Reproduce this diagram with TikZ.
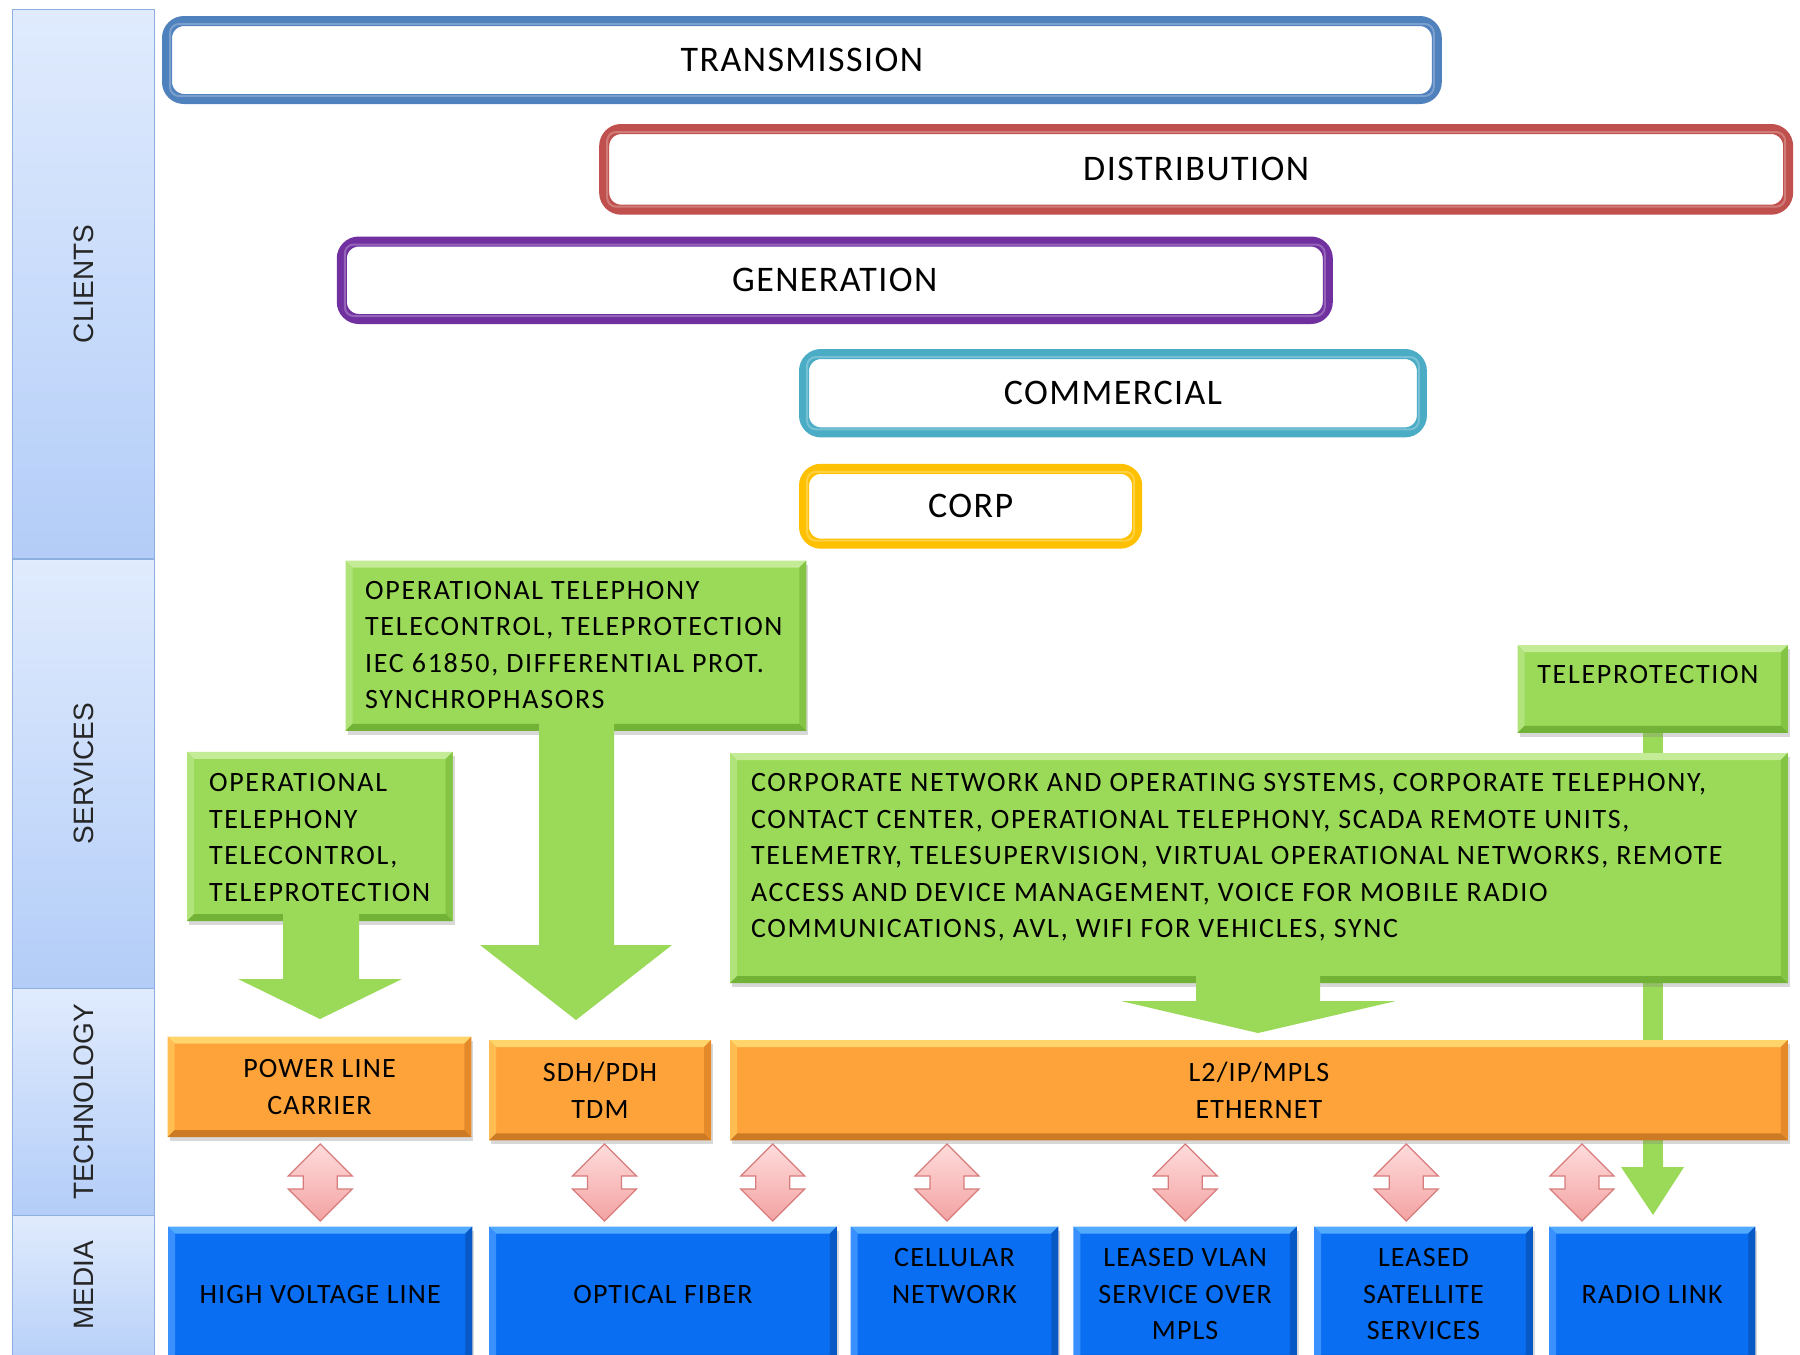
\documentclass[tikz,border=0pt]{standalone}
\usepackage{fontspec}
\setmainfont{Carlito}[LetterSpace=4]
\newfontfamily\arialf{Liberation Sans}
\usetikzlibrary{shadows,calc}
\definecolor{trans}{HTML}{4F81BD}
\definecolor{distr}{HTML}{C0504D}
\definecolor{gener}{HTML}{7030A0}
\definecolor{comme}{HTML}{4BACC6}
\definecolor{corpc}{HTML}{FFC000}
\definecolor{grn}{HTML}{9BD958}
\definecolor{grnL}{HTML}{C4EC97}
\definecolor{grnM}{HTML}{B0E37A}
\definecolor{grnD}{HTML}{84C444}
\definecolor{grnDD}{HTML}{72B236}
\definecolor{org}{HTML}{FDA33A}
\definecolor{orgL}{HTML}{FFD46A}
\definecolor{orgM}{HTML}{FFBD52}
\definecolor{orgD}{HTML}{E58A2A}
\definecolor{orgDD}{HTML}{CC7A24}
\definecolor{blu}{HTML}{0A6EF2}
\definecolor{bluL}{HTML}{52AAFF}
\definecolor{bluM}{HTML}{3A90FF}
\definecolor{bluD}{HTML}{0858C6}
\definecolor{bluDD}{HTML}{064EB0}
\definecolor{panelT}{HTML}{E0EBFD}
\definecolor{panelB}{HTML}{B3CDF8}
\definecolor{panelE}{HTML}{8DB0E0}
\definecolor{pinkT}{HTML}{FFDCDC}
\definecolor{pinkB}{HTML}{F3A2A2}
\definecolor{pinkE}{HTML}{D77C7C}
\newcommand\fClient{\fontsize{36}{43}\selectfont}
\newcommand\fBox{\fontsize{28}{36.5}\selectfont}
\newcommand\fGreen{\fontsize{28}{36.5}\selectfont\addfontfeatures{LetterSpace=6}}
\newcommand\fSide{\arialf\fontsize{28}{32}\selectfont}
\newcommand\bevel[5]{%
\fill[#2] (#1.north west) -- (#1.north east) -- ([xshift=-7pt,yshift=-7pt]#1.north east) -- ([xshift=7pt,yshift=-7pt]#1.north west) -- cycle;
\fill[#3] (#1.north west) -- ([xshift=7pt,yshift=-7pt]#1.north west) -- ([xshift=7pt,yshift=7pt]#1.south west) -- (#1.south west) -- cycle;
\fill[#4] (#1.north east) -- ([xshift=-7pt,yshift=-7pt]#1.north east) -- ([xshift=-7pt,yshift=7pt]#1.south east) -- (#1.south east) -- cycle;
\fill[#5] (#1.south west) -- (#1.south east) -- ([xshift=-7pt,yshift=7pt]#1.south east) -- ([xshift=7pt,yshift=7pt]#1.south west) -- cycle;}
\newcommand\clientbox[7]{%
\node[clientframe=#2, minimum width=#5pt, minimum height=#6pt] (#1) at (#3,#4) {#7};
\draw[#2!75!white, line width=2pt, rounded corners=9pt] ([xshift=8pt,yshift=-8pt]#1.north west) rectangle ([xshift=-8pt,yshift=8pt]#1.south east);}
\newcommand\pinkarrow[1]{%
\draw[pinkarr] (#1,1144) -- (#1+32,1176) -- (#1+17,1176) -- (#1+17,1189) -- (#1+32,1189) -- (#1,1221) -- (#1-32,1189) -- (#1-17,1189) -- (#1-17,1176) -- (#1-32,1176) -- cycle;}
\begin{document}
\begin{tikzpicture}[x=1pt,y=-1pt,
  panel/.style={draw=panelE, line width=1.5pt, top color=panelT, bottom color=panelB, anchor=north west, inner sep=0pt, minimum width=142.3pt},
  sidelabel/.style={rotate=90, font=\fSide, text=black!85},
  clientframe/.style={draw=#1, line width=10pt, rounded corners=17pt, fill=white, anchor=north west, inner sep=0pt, font=\fClient},
  gbox/.style={fill=grn, inner sep=0pt, anchor=north west, drop shadow={shadow xshift=2pt, shadow yshift=-4pt, opacity=0.3}},
  obox/.style={fill=org, inner sep=0pt, anchor=north west, align=center, font=\fBox, drop shadow={shadow xshift=2pt, shadow yshift=-4pt, opacity=0.3}},
  bbox/.style={fill=blu, inner sep=0pt, anchor=north west, align=center, font=\fBox, drop shadow={shadow xshift=2pt, shadow yshift=-4pt, opacity=0.3}},
  gtext/.style={anchor=west, align=left, inner sep=0pt, font=\fGreen},
  garrow/.style={fill=grn},
  pinkarr/.style={draw=pinkE, line width=1.2pt, top color=pinkT, bottom color=pinkB}]
\clip (0,0) rectangle (1800,1355);
\fill[white] (0,0) rectangle (1800,1355);
% left column
\node[panel, minimum height=549.5pt] (pcl) at (11.5,8.5) {};
\node[panel, minimum height=429.5pt] (pse) at (11.5,558) {};
\node[panel, minimum height=227.3pt] (pte) at (11.5,987.5) {};
\node[panel, minimum height=160pt] (pme) at (11.5,1214.8) {};
\node[sidelabel] (lcl) at (pcl.center) {CLIENTS};
\node[sidelabel] (lse) at (pse.center) {SERVICES};
\node[sidelabel] (lte) at (pte.center) {TECHNOLOGY};
\node[sidelabel] (lme) at (pme.center |- 0,1285) {MEDIA};
% clients
\clientbox{ctr}{trans}{162}{16}{1269.8}{78}{TRANSMISSION}
\clientbox{cdi}{distr}{599.2}{124}{1183.9}{80.7}{DISTRIBUTION}
\clientbox{cge}{gener}{336.8}{236.5}{986}{77.5}{GENERATION}
\clientbox{cco}{comme}{799}{349}{617.9}{78.4}{COMMERCIAL}
\clientbox{ccp}{corpc}{799}{463.8}{333.2}{74.9}{CORP}
% teleprotection line (behind)
\fill[grn] (1643,731) rectangle (1663,1167);
% services
\node[gbox, minimum width=460.4pt, minimum height=169.9pt] (g1) at (345.5,560.5) {};
\bevel{g1}{grnL}{grnM}{grnD}{grnDD}
\node[gbox, minimum width=265.2pt, minimum height=168.8pt] (g2) at (187.1,751.9) {};
\bevel{g2}{grnL}{grnM}{grnD}{grnDD}
\node[gbox, minimum width=269.8pt, minimum height=87.2pt] (tp) at (1517.6,645.2) {};
\bevel{tp}{grnL}{grnM}{grnD}{grnDD}
\node[gbox, minimum width=1057.3pt, minimum height=229.6pt] (g3) at (730.1,753.1) {};
\bevel{g3}{grnL}{grnM}{grnD}{grnDD}
\node[font=\fGreen, inner sep=0pt] (tpt) at (1648,675) {TELEPROTECTION};
\node[gtext] (g1t) at (365,645.2) {OPERATIONAL TELEPHONY\\TELECONTROL, TELEPROTECTION\\IEC 61850, DIFFERENTIAL PROT.\\SYNCHROPHASORS};
\node[gtext] (g2t) at (208.9,837.5) {OPERATIONAL\\TELEPHONY\\TELECONTROL,\\TELEPROTECTION};
\node[gtext] (g3t) at (750.8,857.5) {CORPORATE NETWORK AND OPERATING SYSTEMS, CORPORATE TELEPHONY,\\CONTACT CENTER, OPERATIONAL TELEPHONY, SCADA REMOTE UNITS,\\TELEMETRY, TELESUPERVISION, VIRTUAL OPERATIONAL NETWORKS, REMOTE\\ACCESS AND DEVICE MANAGEMENT, VOICE FOR MOBILE RADIO\\COMMUNICATIONS, AVL, WIFI FOR VEHICLES, SYNC};
% green arrows
\fill[garrow] (539,722) -- (614,722) -- (614,945) -- (672,945) -- (576,1020) -- (480,945) -- (539,945) -- cycle;
\fill[garrow] (283,913) -- (359,913) -- (359,979) -- (402,979) -- (320,1019) -- (238,979) -- (283,979) -- cycle;
\fill[garrow] (1196,975) -- (1320,975) -- (1320,1001) -- (1396,1001) -- (1258,1033) -- (1121,1001) -- (1196,1001) -- cycle;
\fill[garrow] (1643,1160) -- (1663,1160) -- (1663,1167) -- (1684,1167) -- (1653,1215) -- (1621,1167) -- (1643,1167) -- cycle;
% technology
\node[obox, minimum width=303.4pt, minimum height=100pt] (o1) at (167.6,1036.6) {POWER LINE\\CARRIER};
\bevel{o1}{orgL}{orgM}{orgD}{orgDD}
\node[obox, minimum width=221.6pt, minimum height=100pt] (o2) at (489,1040) {SDH/PDH\\TDM};
\bevel{o2}{orgL}{orgM}{orgD}{orgDD}
\node[obox, minimum width=1057.3pt, minimum height=100pt] (o3) at (730.1,1040) {L2/IP/MPLS\\ETHERNET};
\bevel{o3}{orgL}{orgM}{orgD}{orgDD}
% pink arrows
\pinkarrow{320.3}
\pinkarrow{604.5}
\pinkarrow{772.7}
\pinkarrow{947}
\pinkarrow{1185.3}
\pinkarrow{1406.3}
\pinkarrow{1582}
% media
\node[bbox, minimum width=304pt, minimum height=135pt] (b1) at (168,1226.5) {HIGH VOLTAGE LINE};
\bevel{b1}{bluL}{bluM}{bluD}{bluDD}
\node[bbox, minimum width=347.5pt, minimum height=135pt] (b2) at (489,1226.5) {OPTICAL FIBER};
\bevel{b2}{bluL}{bluM}{bluD}{bluDD}
\node[bbox, minimum width=207.4pt, minimum height=135pt] (b3) at (850.6,1226.5) {CELLULAR\\NETWORK\\\mbox{}};
\bevel{b3}{bluL}{bluM}{bluD}{bluDD}
\node[bbox, minimum width=223.1pt, minimum height=135pt] (b4) at (1073.4,1226.5) {LEASED VLAN\\SERVICE OVER\\MPLS};
\bevel{b4}{bluL}{bluM}{bluD}{bluDD}
\node[bbox, minimum width=218.5pt, minimum height=135pt] (b5) at (1314,1226.5) {LEASED\\SATELLITE\\SERVICES};
\bevel{b5}{bluL}{bluM}{bluD}{bluDD}
\node[bbox, minimum width=206pt, minimum height=135pt] (b6) at (1549,1226.5) {RADIO LINK};
\bevel{b6}{bluL}{bluM}{bluD}{bluDD}
\end{tikzpicture}
\end{document}
